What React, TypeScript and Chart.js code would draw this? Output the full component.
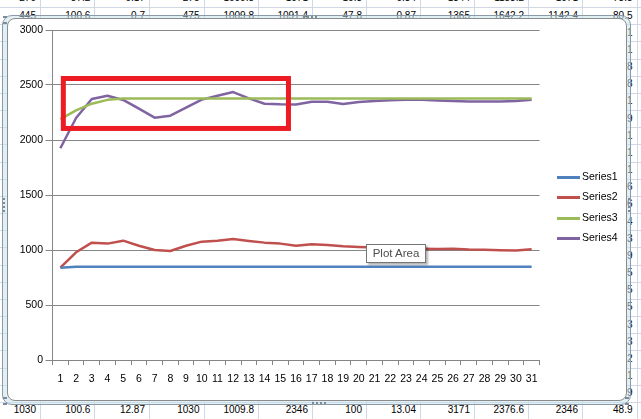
import React, { useEffect, useRef } from "react";
import { Chart, registerables } from "chart.js";

Chart.register(...registerables);

// ---------- chart data ----------
const categories = ["1","2","3","4","5","6","7","8","9","10","11","12","13","14","15","16","17","18","19","20","21","22","23","24","25","26","27","28","29","30","31"];
const seriesNames = ["Series1", "Series2", "Series3", "Series4"];
const seriesColors = ["#4F81BD", "#C0504D", "#9BBB59", "#8064A2"];
const series1 = [838, 848, 848, 848, 848, 848, 848, 848, 848, 848, 848, 848, 848, 848, 848, 848, 848, 848, 848, 848, 848, 848, 848, 848, 848, 848, 848, 848, 848, 848, 848];
const series2 = [839, 979, 1067, 1058, 1085, 1039, 1000, 991, 1039, 1076, 1085, 1100, 1082, 1067, 1058, 1039, 1052, 1045, 1033, 1027, 1022, 1018, 1015, 1012, 1010, 1012, 1005, 1003, 998, 996, 1006];
const series3 = [2190, 2270, 2330, 2365, 2376.6, 2376.6, 2376.6, 2376.6, 2376.6, 2376.6, 2376.6, 2376.6, 2376.6, 2376.6, 2376.6, 2376.6, 2376.6, 2376.6, 2376.6, 2376.6, 2376.6, 2376.6, 2376.6, 2376.6, 2376.6, 2376.6, 2376.6, 2376.6, 2376.6, 2376.6, 2376.6];
const series4 = [1925, 2200, 2373, 2403, 2364, 2285, 2203, 2221, 2294, 2367, 2403, 2436, 2379, 2330, 2324, 2322, 2348, 2348, 2327, 2345, 2355, 2362, 2365, 2365, 2360, 2355, 2350, 2350, 2350, 2355, 2365];
const yMin = 0;
const yMax = 3000;
const yStep = 500;

// red highlight box, in data coordinates (category index / value)
const highlightFromIndex = 0.19;
const highlightToIndex = 14.52;
const highlightFromValue = 2105;
const highlightToValue = 2559;

// ---------- spreadsheet background text ----------
const topRowCells = ["270", "87.2", "0.17", "275", "1009.8", "1071", "10.3", "0.34", "1344", "1183.2", "1071", "73.8"];
const secondRowCells = ["445", "100.6", "0.7", "475", "1009.8", "1091.4", "47.8", "0.87", "1365", "1642.2", "1142.4", "80.5"];
const bottomRowCells = ["1030", "100.6", "12.87", "1030", "1009.8", "2346", "100", "13.04", "3171", "2376.6", "2346", "48.9"];
const rightEdgeDigits = ["1", "1", "8", "8", "1", "9", "1", "1", "1", "6", "6", "4", "3", "9", "5", "5", "5", "3", "3", "2", "1", "9"];

const FONT = '"Liberation Sans", Arial, sans-serif';
const colBorders = [40, 94.3, 149, 203.5, 258, 312, 366, 420, 474, 528, 582, 636.5];
const ROW0 = 7;
const ROWH = 17.17;

const legendPlugin = {
  id: "sideLegend",
  afterDraw(chart: any) {
    const { ctx, chartArea } = chart;
    const x0 = chartArea.right + 17.5;
    const cy = (chartArea.top + chartArea.bottom) / 2 + 12.5;
    const n = chart.data.datasets.length;
    ctx.save();
    ctx.font = `10.5px ${FONT}`;
    ctx.textBaseline = "middle";
    ctx.textAlign = "left";
    chart.data.datasets.forEach((ds: any, i: number) => {
      const y = Math.round(cy + (i - (n - 1) / 2) * 20.3) + 0.5;
      ctx.strokeStyle = ds.borderColor;
      ctx.lineWidth = 3;
      ctx.beginPath();
      ctx.moveTo(x0, y);
      ctx.lineTo(x0 + 23, y);
      ctx.stroke();
      ctx.fillStyle = "#000";
      ctx.fillText(ds.label, x0 + 25, y);
    });
    ctx.restore();
  },
};

const highlightPlugin = {
  id: "highlightBox",
  afterDatasetsDraw(chart: any) {
    const { ctx } = chart;
    const xs = chart.scales.x;
    const ys = chart.scales.y;
    const p0 = xs.getPixelForValue(0);
    const step = xs.getPixelForValue(1) - p0;
    const left = p0 + highlightFromIndex * step;
    const right = p0 + highlightToIndex * step;
    const top = ys.getPixelForValue(highlightToValue);
    const bottom = ys.getPixelForValue(highlightFromValue);
    ctx.save();
    ctx.strokeStyle = "#ED1C24";
    ctx.lineWidth = 5;
    ctx.lineJoin = "miter";
    ctx.strokeRect(left, top, right - left, bottom - top);
    ctx.restore();
  },
};

function Cell({ col, center, text }: { col: number; center: number; text: string }) {
  const left = col === 0 ? 0 : colBorders[col - 1];
  const right = colBorders[col];
  return (
    <div
      style={{
        position: "absolute",
        left,
        width: right - left - 4,
        top: center - 7,
        height: 14,
        lineHeight: "14px",
        fontSize: 10,
        textAlign: "right",
        color: "#000",
        whiteSpace: "nowrap",
      }}
    >
      {text}
    </div>
  );
}

export default function App() {
  const ref = useRef<HTMLCanvasElement>(null);

  useEffect(() => {
    const canvas = ref.current!;
    const datasets = [series1, series2, series3, series4].map((d, i) => ({
      label: seriesNames[i],
      data: d,
      borderColor: seriesColors[i],
      backgroundColor: seriesColors[i],
      borderWidth: 2.5,
      pointRadius: 0,
      pointHoverRadius: 0,
      tension: 0,
      fill: false,
      borderJoinStyle: "round" as const,
    }));
    const font = { family: FONT, size: 10.5 };
    const chart = new Chart(canvas, {
      type: "line",
      data: { labels: categories, datasets },
      options: {
        animation: false,
        responsive: false,
        devicePixelRatio: 1,
        layout: { padding: { left: 0, top: 30, right: 101.5, bottom: 29 } },
        plugins: { legend: { display: false }, tooltip: { enabled: false } },
        scales: {
          x: {
            type: "category",
            offset: true,
            grid: {
              display: true,
              drawOnChartArea: false,
              drawTicks: true,
              tickLength: 5,
              offset: true,
              color: "#868686",
            },
            border: { display: true, color: "#868686", width: 1 },
            ticks: { autoSkip: false, maxRotation: 0, minRotation: 0, padding: 7.5, color: "#000", font },
            afterFit: (s: any) => {
              s.height = 30;
            },
          },
          y: {
            min: yMin,
            max: yMax,
            ticks: {
              stepSize: yStep,
              padding: 2.5,
              color: "#000",
              font,
              callback: (v: any) => String(v),
            },
            grid: { color: "#868686", tickLength: 7, drawTicks: true },
            border: { display: true, color: "#868686", width: 1 },
            afterFit: (s: any) => {
              s.width = 52.5;
            },
          },
        },
      },
      plugins: [highlightPlugin, legendPlugin],
    });
    return () => chart.destroy();
  }, []);

  const rowLines = [];
  for (let k = 0; k <= 24; k++) rowLines.push(ROW0 + ROWH * k);

  return (
    <div
      style={{
        position: "fixed",
        left: 0,
        top: 0,
        width: 641,
        height: 419,
        overflow: "hidden",
        background: "#fff",
        fontFamily: FONT,
      }}
    >
      {/* spreadsheet grid */}
      {colBorders.map((x, i) => (
        <div key={"c" + i} style={{ position: "absolute", left: Math.round(x), top: 0, width: 1, height: 419, background: "#D0D7E5" }} />
      ))}
      {rowLines.map((y, i) => (
        <div key={"r" + i} style={{ position: "absolute", left: 0, top: Math.round(y), width: 641, height: 1, background: "#D0D7E5" }} />
      ))}
      {topRowCells.map((t, i) => (
        <Cell key={"t" + i} col={i} center={ROW0 - ROWH / 2} text={t} />
      ))}
      {secondRowCells.map((t, i) => (
        <Cell key={"s" + i} col={i} center={ROW0 + ROWH / 2} text={t} />
      ))}
      {bottomRowCells.map((t, i) => (
        <Cell key={"b" + i} col={i} center={ROW0 + ROWH * 23 + ROWH / 2} text={t} />
      ))}
      {rightEdgeDigits.map((t, i) => (
        <Cell key={"d" + i} col={11} center={ROW0 + ROWH * (i + 1) + ROWH / 2} text={t} />
      ))}

      {/* selection frame */}
      <div
        style={{
          position: "absolute",
          left: 2,
          top: 15,
          width: 629,
          height: 390,
          boxSizing: "border-box",
          border: "1px solid #8C99A6",
          borderRadius: 10,
          background: "rgba(200,228,236,0.55)",
        }}
      />
      {/* chart area */}
      <div
        style={{
          position: "absolute",
          left: 7,
          top: 18,
          width: 620,
          height: 383,
          boxSizing: "border-box",
          border: "1px solid #8C8C8C",
          borderRadius: 8,
          background: "#fff",
        }}
      />
      {/* handles */}
      <div style={{ position: "absolute", left: 303, top: 16, width: 14, height: 0, borderTop: "2px dotted #7D8B98" }} />
      <div style={{ position: "absolute", left: 312, top: 402, width: 14, height: 0, borderTop: "2px dotted #7D8B98" }} />
      <div style={{ position: "absolute", left: 3, top: 16, width: 4, height: 4, borderTop: "2px dotted #7D8B98", borderBottom: "2px dotted #7D8B98" }} />
      <div style={{ position: "absolute", left: 3, top: 198, width: 0, height: 14, borderLeft: "2px dotted #7D8B98" }} />
      <div style={{ position: "absolute", left: 628, top: 198, width: 0, height: 14, borderLeft: "2px dotted #7D8B98" }} />
      <div style={{ position: "absolute", left: 3, top: 397, width: 4, height: 4, borderTop: "2px dotted #7D8B98", borderBottom: "2px dotted #7D8B98" }} />
      <div style={{ position: "absolute", left: 625, top: 397, width: 4, height: 4, borderTop: "2px dotted #7D8B98", borderBottom: "2px dotted #7D8B98" }} />

      <canvas
        ref={ref}
        width={641}
        height={419}
        style={{ position: "absolute", left: 0, top: 0, width: 641, height: 419 }}
      />

      {/* hover tooltip shown in the screenshot */}
      <div
        style={{
          position: "absolute",
          left: 366,
          top: 244,
          width: 60,
          height: 19,
          boxSizing: "border-box",
          border: "1px solid #767676",
          background: "#fff",
          color: "#4D4D4D",
          fontSize: 11.5,
          lineHeight: "17px",
          textAlign: "center",
          boxShadow: "2px 2px 2px rgba(0,0,0,0.3)",
          whiteSpace: "nowrap",
        }}
      >
        Plot Area
      </div>
    </div>
  );
}
